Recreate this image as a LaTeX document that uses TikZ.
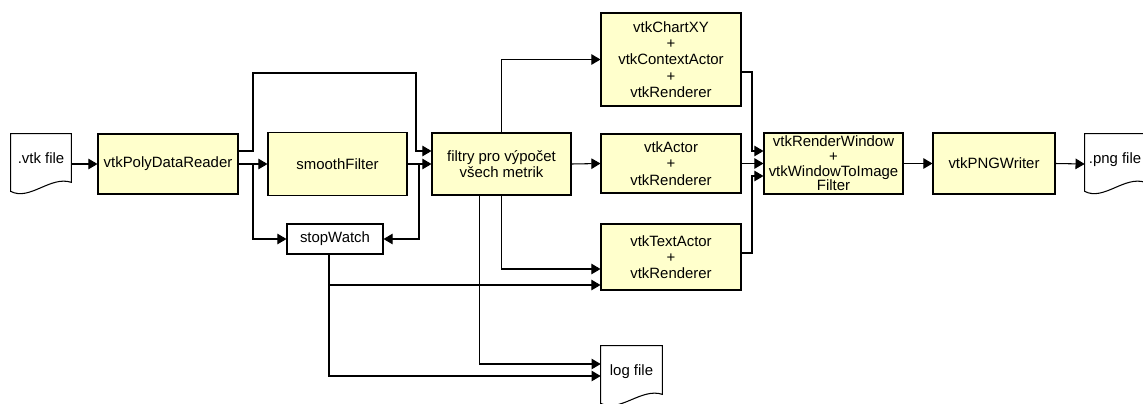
\documentclass[tikz,border=0pt]{standalone}
\usepackage{fontspec}
\setmainfont{Liberation Sans}
\usetikzlibrary{arrows.meta,calc}
\definecolor{boxyellow}{RGB}{255,255,204}
% outline of a document with a wavy lower edge
\newcommand{\docshape}[1]{\draw[line width=0.6pt] (#1.north west) -- (#1.north east) -- ($(#1.south east)+(0,-12)$) .. controls ($(#1.south east)+(-21,-19)$) and ($(#1.south west)+(19,7)$) .. ($(#1.south west)+(0,-3)$) -- cycle;}
\begin{document}
\begin{tikzpicture}[x=0.02cm, y=-0.02cm, line join=miter, >={Triangle[length=5.2pt,width=6pt]}, font=\fontsize{8.5}{9.2}\selectfont]
	\tikzset{box/.style={draw, line width=0.6pt, fill=boxyellow, align=center, inner sep=0pt, minimum width=2.8cm, minimum height=1.2cm},
		doc/.style={inner sep=0pt, minimum width=1.2cm, minimum height=1.2cm, text height=7pt, text depth=8pt},
		wire/.style={->, line width=0.6pt}}
	\useasboundingbox (0,0) rectangle (1143,403);
	% documents
	\node[doc] (vtkfile) at (41,164) {.vtk file};
	\node[doc] (pngfile) at (1115,164) {.png file};
	\node[doc, minimum width=1.22cm] (logfile) at (631.5,376) {log file};
	\docshape{vtkfile}
	\docshape{pngfile}
	\docshape{logfile}
	% processing boxes
	\node[box] (reader) at (168,164) {vtkPolyDataReader};
	\node[box, minimum width=2.78cm, minimum height=1.26cm] (smooth) at (337.5,164) {smoothFilter};
	\node[box, fill=white, minimum width=1.92cm, minimum height=0.6cm] (stop) at (335,239) {stopWatch};
	\node[box, minimum width=2.78cm, minimum height=1.24cm] (metrics) at (501.5,164) {filtry pro výpočet\\všech metrik};
	\node[box, minimum height=1.86cm] (chart) at (671,59.5) {vtkChartXY\\+\\vtkContextActor\\+\\vtkRenderer};
	\node[box, minimum height=1.18cm] (actor) at (671,163.5) {vtkActor\\+\\vtkRenderer};
	\node[box, minimum height=1.32cm] (textactor) at (671,257) {vtkTextActor\\+\\vtkRenderer};
	\node[box, minimum width=2.78cm, minimum height=1.22cm, font=\fontsize{8.5}{8.4}\selectfont] (render) at (833.5,163.5) {vtkRenderWindow\\+\\vtkWindowToImage\\Filter};
	\node[box, minimum width=2.44cm, minimum height=1.22cm] (writer) at (994,163.5) {vtkPNGWriter};
	% connectors
	\coordinate (split) at (253,164);
	\coordinate (swout) at ($(stop.south)+(-6,0)$);
	\coordinate (mout) at ($(metrics.south)+(-22,0)$);
	\draw[wire] (vtkfile.east) -- (reader.west);
	\draw[wire] (reader.east) -- (smooth.west);
	\draw[wire] (split) |- (stop.west);
	\draw[wire] ($(reader.east)+(0,-13)$) -- ($(split)+(0,-13)$) |- (416,73) |- ($(metrics.west)+(0,-13)$);
	\draw[wire] (smooth.east) -- (metrics.west);
	\draw[wire] (419,164) |- (stop.east);
	\draw[wire] (metrics.north) |- (chart.west);
	\draw[wire] (metrics.east) -- (actor.west);
	\draw[wire] (metrics.south) |- ($(textactor.west)+(0,12)$);
	\draw[wire] (swout) |- ($(textactor.west)+(0,28)$);
	\draw[wire] (swout) |- ($(logfile.west)+(0,0)$);
	\draw[wire] (mout) |- ($(logfile.west)+(0,-12)$);
	\draw[wire] ($(chart.east)+(0,12.5)$) -| (752,140) |- ($(render.west)+(0,-12.5)$);
	\draw[wire] (actor.east) -- (render.west);
	\draw[wire] ($(textactor.east)+(0,-4)$) -| (752,190) |- ($(render.west)+(0,12.5)$);
	\draw[wire] (render.east) -- (writer.west);
	\draw[wire] (writer.east) -- (pngfile.west);
\end{tikzpicture}
\end{document}
